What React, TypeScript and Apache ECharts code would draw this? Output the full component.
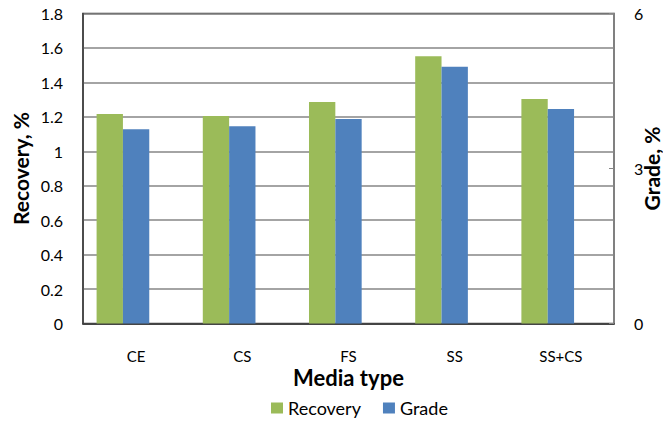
import React, { useEffect, useRef } from "react";
import * as echarts from "echarts";

const categories = ["CE", "CS", "FS", "SS", "SS+CS"];
const recovery = [1.217, 1.205, 1.286, 1.552, 1.304];
const grade = [3.76, 3.82, 3.96, 4.97, 4.15];
const emptySlot = [null, null, null, null, null];

const FONT = "Lato, 'Open Sans', sans-serif";

export default function App() {
  const ref = useRef<HTMLDivElement>(null);
  useEffect(() => {
    if (!ref.current) return;
    const chart = echarts.init(ref.current, undefined, { renderer: "svg" });
    chart.setOption({
      animation: false,
      backgroundColor: "#ffffff",
      textStyle: { fontFamily: FONT },
      grid: {
        left: 83,
        right: 49,
        top: 13.5,
        bottom: 97.5,
        containLabel: false,
        outerBoundsMode: "none",
        show: true,
        borderColor: "#404040",
        borderWidth: 1.5,
      },
      legend: {
        data: ["Recovery", "Grade"],
        left: 271,
        top: 398,
        padding: 0,
        itemWidth: 12,
        itemHeight: 11,
        itemGap: 22,
        icon: "rect",
        textStyle: { fontFamily: FONT, fontSize: 18, lineHeight: 20, color: "#000" },
      },
      xAxis: [
        {
          type: "category",
          data: categories,
          position: "bottom",
          axisLine: { show: true, lineStyle: { color: "#404040", width: 1.5 } },
          axisTick: { show: false },
          axisLabel: { fontFamily: FONT, fontSize: 15, color: "#000", margin: 24, lineHeight: 16 },
          name: "Media type",
          nameLocation: "middle",
          nameGap: 43,
          nameMoveOverlap: false,
          nameTextStyle: { fontFamily: FONT, fontSize: 22, lineHeight: 22, fontWeight: "bold", color: "#000" },
        },
        {
          type: "category",
          data: categories,
          position: "top",
          axisLine: { show: true, lineStyle: { color: "#404040", width: 1.5 } },
          axisTick: { show: false },
          axisLabel: { show: false },
        },
      ],
      yAxis: [
        {
          type: "value",
          min: 0,
          max: 1.8,
          interval: 0.2,
          position: "left",
          axisLine: { show: true, lineStyle: { color: "#404040", width: 1.5 } },
          axisTick: { show: false },
          axisLabel: { fontFamily: FONT, fontSize: 16, color: "#000", margin: 20 },
          splitLine: { show: true, lineStyle: { color: "#868686", width: 1.5 } },
          name: "Recovery, %",
          nameLocation: "middle",
          nameRotate: 90,
          nameGap: 52,
          nameMoveOverlap: false,
          nameTextStyle: { fontFamily: FONT, fontSize: 21, fontWeight: "bold", color: "#000" },
        },
        {
          type: "value",
          min: 0,
          max: 6,
          interval: 3,
          position: "right",
          axisLine: { show: true, lineStyle: { color: "#868686", width: 1.5 } },
          axisTick: { show: true, inside: true, length: 5, lineStyle: { color: "#868686" } },
          axisLabel: { fontFamily: FONT, fontSize: 16, color: "#000", margin: 20 },
          splitLine: { show: false },
          name: "Grade, %",
          nameLocation: "middle",
          nameRotate: 90,
          nameGap: 27,
          nameMoveOverlap: false,
          nameTextStyle: { fontFamily: FONT, fontSize: 21, fontWeight: "bold", color: "#000" },
        },
      ],
      series: [
        {
          name: "Recovery",
          type: "bar",
          xAxisIndex: 0,
          yAxisIndex: 0,
          data: recovery,
          itemStyle: { color: "#9BBB59" },
          barGap: "0%",
          barCategoryGap: "25.6%",
        },
        {
          name: "Grade",
          type: "bar",
          xAxisIndex: 0,
          yAxisIndex: 1,
          data: grade,
          itemStyle: { color: "#4F81BD" },
          barGap: "0%",
          barCategoryGap: "25.6%",
        },
        {
          name: "_empty",
          type: "bar",
          xAxisIndex: 0,
          yAxisIndex: 0,
          data: emptySlot,
          itemStyle: { color: "transparent" },
          barGap: "0%",
          barCategoryGap: "25.6%",
        },
      ],
    });
    return () => chart.dispose();
  }, []);
  return <div ref={ref} style={{ width: 663, height: 421, position: "absolute", left: 0, top: 0 }} />;
}
